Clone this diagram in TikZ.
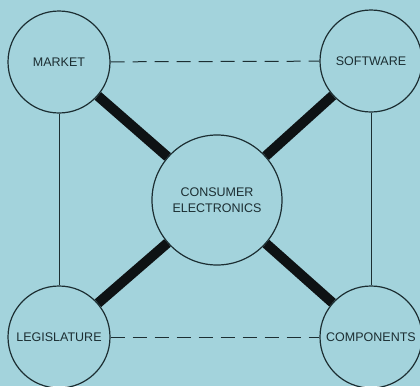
\documentclass[tikz,border=0pt]{standalone}
\usepackage{fontspec}
\setmainfont{Liberation Sans}
\usepackage{xcolor}
\usepackage{tikz}
\definecolor{bg}{HTML}{A3D3DC}
\definecolor{ink}{HTML}{1C2E32}
\definecolor{bar}{HTML}{0E1214}

\begin{document}
\begin{tikzpicture}[x=1pt, y=-1pt,
  topic/.style={circle, draw=ink, line width=1.2pt, minimum size=102pt, inner sep=0pt,
                align=center, font=\fontsize{12.5}{16}\selectfont, text=ink},
  thin/.style={draw=ink, line width=1pt},
  dashline/.style={draw=ink, line width=1pt, dash pattern=on 14pt off 8pt},
  heavy/.style={draw=bar, line width=10pt}]
  \fill[bg] (0,0) rectangle (420,386);
  \useasboundingbox (0,0) rectangle (420,386);
  \node[topic] (mkt) at (59,62) {MARKET};
  \node[topic] (sw) at (371,61) {SOFTWARE};
  \node[topic] (leg) at (59,337) {LEGISLATURE};
  \node[topic] (comp) at (371,337) {COMPONENTS};
  \node[topic, minimum size=130pt] (ce) at (217,200) {CONSUMER\\ELECTRONICS};
  \foreach \t in {mkt,sw,leg,comp} \draw[heavy] (ce) -- (\t);
  \draw[thin] (mkt) -- (leg); \draw[thin] (sw) -- (comp);
  \draw[dashline] (mkt) -- (sw); \draw[dashline] (leg) -- (comp);
\end{tikzpicture}
\end{document}
